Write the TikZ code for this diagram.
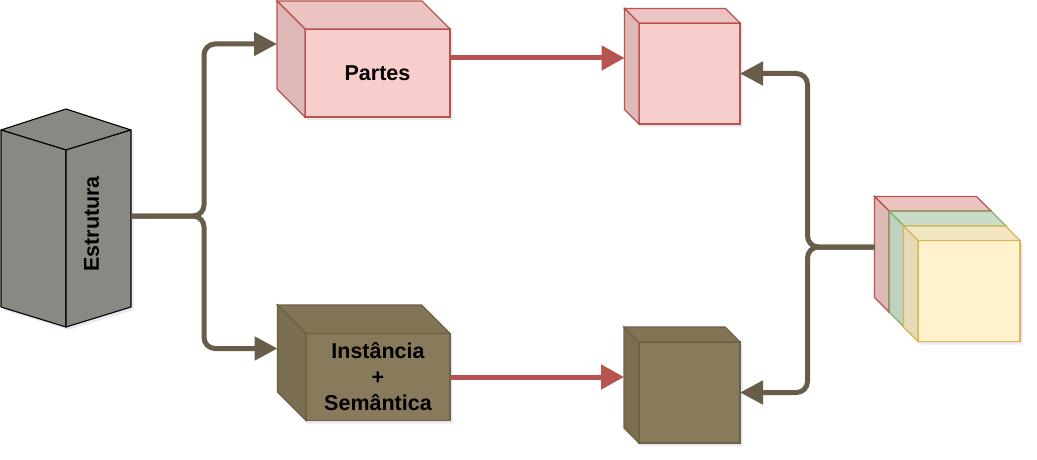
\documentclass[tikz,border=0pt]{standalone}
\usepackage{fontspec}
\setmainfont{Liberation Sans}
\usetikzlibrary{arrows.meta,calc}
\definecolor{pink}{HTML}{F8CECC}
\definecolor{pinktop}{HTML}{EBC4C2}
\definecolor{pinkleft}{HTML}{DFB9B8}
\definecolor{pinkline}{HTML}{B85450}
\definecolor{brn}{HTML}{8A7A5C}
\definecolor{brntop}{HTML}{837456}
\definecolor{brnleft}{HTML}{7B6D52}
\definecolor{brnline}{HTML}{6C6047}
\definecolor{grn}{HTML}{D5E8D4}
\definecolor{grntop}{HTML}{CADCC9}
\definecolor{grnleft}{HTML}{C0D1BF}
\definecolor{grnline}{HTML}{82B366}
\definecolor{ylw}{HTML}{FFF2CC}
\definecolor{ylwtop}{HTML}{F2E6C2}
\definecolor{ylwleft}{HTML}{E6DAB8}
\definecolor{ylwline}{HTML}{D6B656}
\definecolor{estrfill}{HTML}{878A82}
\definecolor{conn}{HTML}{675D49}
\definecolor{redconn}{HTML}{B85450}
\definecolor{shadowcol}{HTML}{5A5F8A}
\tikzset{
  shadowc/.style={fill=shadowcol, opacity=0.14},
  cubefront/.style={rectangle, inner sep=0pt, outer sep=0pt, line width=1.2pt, align=center,
    font=\fontsize{21.5}{26}\selectfont\bfseries},
  cubeface/.style={line width=1.2pt, line join=miter},
  brownconn/.style={draw=conn, line width=5pt, rounded corners=11pt, -{Triangle[length=23pt,width=23pt]}},
  redarrow/.style={draw=redconn, line width=5pt, -{Triangle[length=23pt,width=24pt]}},
  labeltext/.style={font=\fontsize{21.5}{26}\selectfont\bfseries},
}
\newcommand\mycube[8]{%
  \fill[shadowc] ({#2-#4/2-#6+2.5},{#3-#5/2-#6+3}) -- ({#2+#4/2-#6+2.5},{#3-#5/2-#6+3}) -- ({#2+#4/2+2.5},{#3-#5/2+3}) -- ({#2+#4/2+2.5},{#3+#5/2+3}) -- ({#2-#4/2+2.5},{#3+#5/2+3}) -- ({#2-#4/2-#6+2.5},{#3+#5/2-#6+3}) -- cycle;
  \node[cubefront, fill=#7, draw=#7line, minimum width=#4pt, minimum height=#5pt] (#1) at (#2,#3) {#8};
  \draw[cubeface, fill=#7top, draw=#7line] (#1.north west) -- ++(-#6,-#6) -- ([shift={(-#6pt,#6pt)}]#1.north east) -- (#1.north east) -- cycle;
  \draw[cubeface, fill=#7left, draw=#7line] (#1.north west) -- ++(-#6,-#6) -- ([shift={(-#6pt,#6pt)}]#1.south west) -- (#1.south west) -- cycle;
}
\begin{document}
\begin{tikzpicture}[x=1pt,y=-1pt]
\useasboundingbox (0,0) rectangle (1037,460);

% Estrutura (isometric prism)
\fill[shadowc] (3.5,133) -- (68.5,112) -- (133.5,133) -- (133.5,310) -- (68.5,330) -- (3.5,310) -- cycle;
\draw[fill=estrfill, line width=1.1pt, line join=round] (1,130) -- (66,109) -- (131,130) -- (66,150) -- cycle;
\draw[fill=estrfill, line width=1.1pt, line join=round] (1,130) -- (66,150) -- (66,327) -- (1,307) -- cycle;
\draw[fill=estrfill, line width=1.1pt, line join=round] (66,150) -- (131,130) -- (131,307) -- (66,327) -- cycle;
\node[labeltext, rotate=90, inner sep=0pt] (estrutura) at (91.5,224) {Estrutura};
\coordinate (estr) at (131,216);

% Middle cubes
\mycube{partes}{377.5}{73}{145}{88}{28}{pink}{Partes}
\mycube{inst}{378}{377}{144}{87}{28.5}{brn}{Instância\\+\\Semântica}

% Small cubes
\mycube{pinkbox}{689.5}{73.5}{101}{101}{14.5}{pink}{}
\mycube{brownbox}{689.5}{392.5}{101}{101}{15}{brn}{}

% Stack
\mycube{red}{940}{261.5}{102}{101}{14.5}{pink}{}
\mycube{green}{955}{276.5}{102}{101}{14.5}{grn}{}
\mycube{yellow}{969}{291}{102}{101}{14.5}{ylw}{}

% anchor coordinates
\coordinate (partesin) at ([shift={(-28pt,29pt)}]partes.west);
\coordinate (instin) at ([shift={(-28.5pt,28.5pt)}]inst.west);
\coordinate (partesout) at ([yshift=15pt]partes.east);
\coordinate (pinkleftedge) at ([xshift=-14.5pt]pinkbox.west);
\coordinate (brownleftedge) at ([xshift=-15pt]brownbox.west);
\coordinate (stacksrc) at ([shift={(-14.5pt,14.5pt)}]red.west);

% Connectors
\draw[brownconn] (estr) -- ++(73,0) |- (partesin);
\draw[brownconn] (estr) -- ++(73,0) |- (instin);
\draw[brownconn] (stacksrc) -- ++(-67,0) |- (pinkbox.east);
\draw[brownconn] (stacksrc) -- ++(-67,0) |- (brownbox.east);
\draw[redarrow] (partesout) -- (partesout -| pinkleftedge);
\draw[redarrow] (inst.east) -- (inst.east -| brownleftedge);
\end{tikzpicture}
\end{document}
